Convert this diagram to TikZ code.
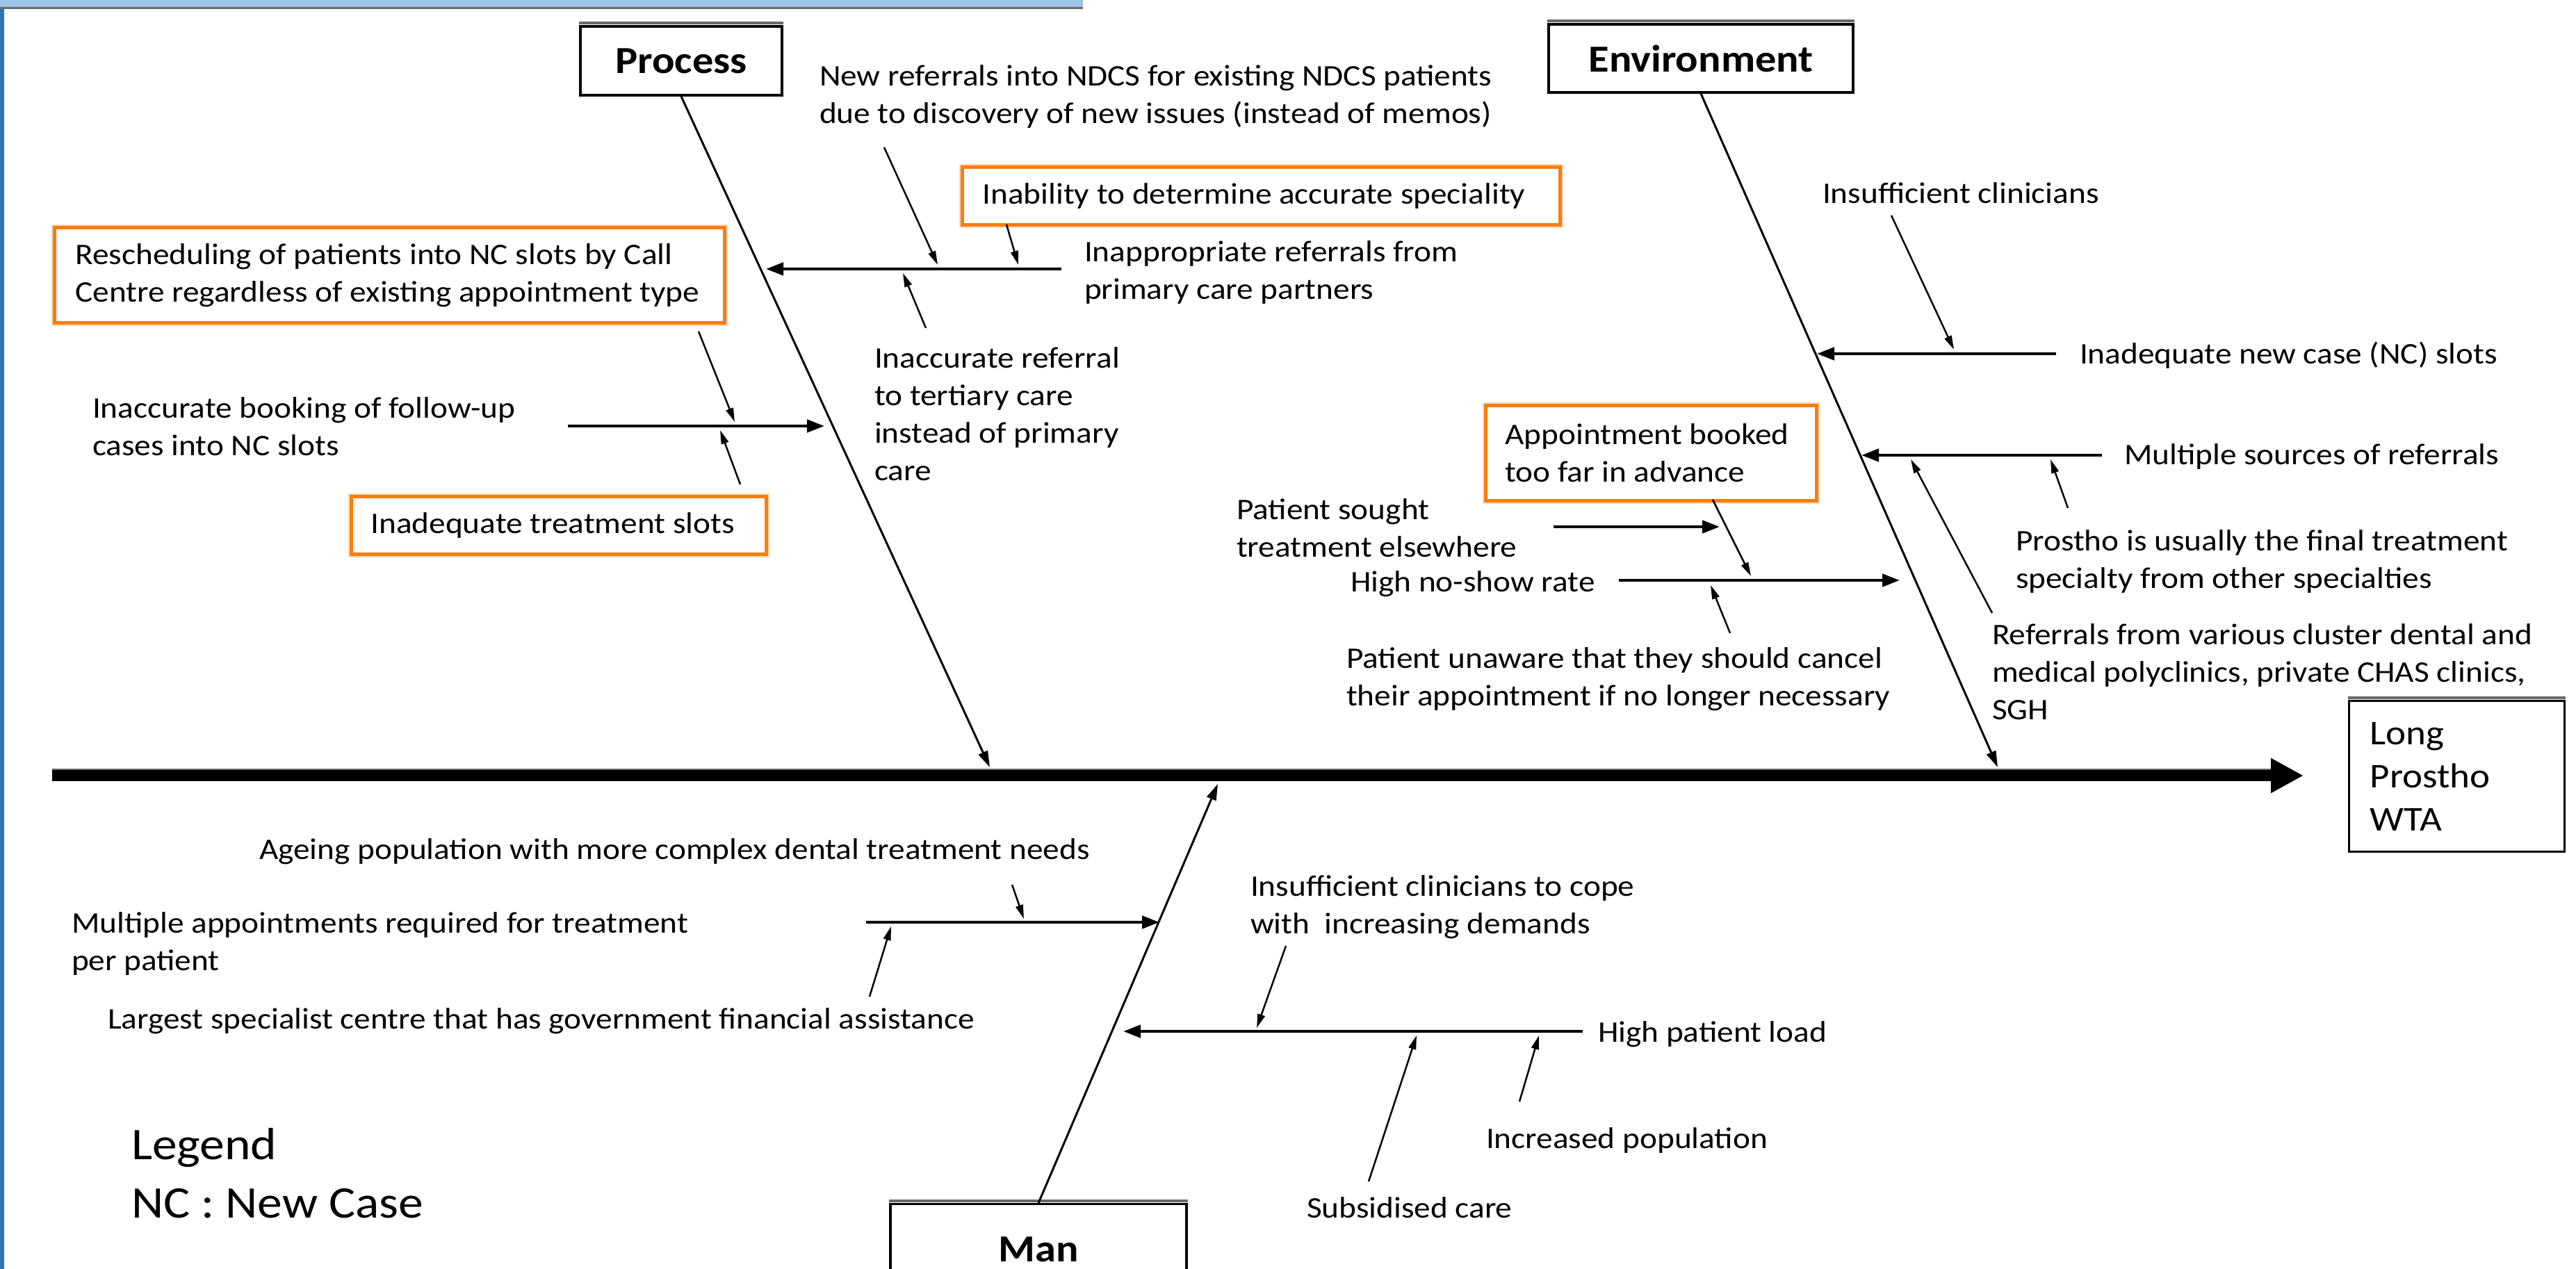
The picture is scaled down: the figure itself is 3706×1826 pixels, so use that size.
\documentclass[tikz,border=0pt]{standalone}
\usepackage{fontspec}
\setmainfont{Carlito}[FakeStretch=1.1]
\usetikzlibrary{arrows.meta}
\definecolor{boxorange}{RGB}{250,125,15}
\definecolor{barblue}{RGB}{157,195,230}
\definecolor{edgeblue}{RGB}{46,117,182}
\definecolor{bargray}{RGB}{105,105,105}
\newcommand\mytxtfont{\fontsize{12.9}{16.2}\selectfont}
\newcommand\natspace{\spaceskip=0pt\xspaceskip=0pt\relax}
\begin{document}
\begin{tikzpicture}[x=0.3pt,y=-0.3pt,
  txt/.style={inner sep=0pt, outer sep=0pt, anchor=west, align=left, font=\mytxtfont},
  obox/.style={draw=boxorange, line width=1.4pt, preaction={draw=boxorange!30, line width=2.6pt},
    fill=white, anchor=north west, align=left, inner ysep=0pt, font=\mytxtfont},
  kbox/.style={draw=black, line width=1pt, fill=white, align=center, inner sep=0pt},
  catlabel/.style={kbox, font=\bfseries\fontsize{16.5}{20}\selectfont},
  bone/.style={line width=0.9pt, -{Triangle[length=7pt,width=4.2pt]}},
  branch/.style={line width=1.4pt, -{Triangle[length=7.5pt,width=5.4pt]}},
  subarrow/.style={line width=0.75pt, -{Triangle[length=6pt,width=3.2pt]}},
  spine/.style={line width=4.6pt, -{Triangle[length=14.1pt,width=14.1pt]}},
  topedge/.style={bargray, line width=1.2pt},
]
\useasboundingbox (0,0) rectangle (3706,1826);
% window frame remnants
\fill[barblue] (0,0) rectangle (1558,10);
\fill[bargray] (0,10) rectangle (1558,12.5);
\fill[edgeblue] (0,12.5) rectangle (6,1826);

% category boxes
\node[catlabel, minimum width=87pt, minimum height=29.7pt] (process) at (980,87.5) {Process};
\node[catlabel, minimum width=131.4pt, minimum height=29.4pt] (env) at (2447,84) {Environment};
\node[catlabel, minimum width=127.8pt, minimum height=39pt, anchor=north] (man) at (1494,1731) {Man};

% effect
\node[kbox, align=left, anchor=north west, text width=75pt, inner xsep=9pt, minimum height=65.1pt,
  font=\fontsize{15}{18.6}\selectfont] (effect) at (3378,1007) {Long\\Prostho\\WTA};

% gray top edges of the black boxes
\draw[topedge] ([yshift=1pt]process.north west) -- ([yshift=1pt]process.north east);
\draw[topedge] ([yshift=1pt]env.north west) -- ([yshift=1pt]env.north east);
\draw[topedge] ([yshift=1pt]man.north west) -- ([yshift=1pt]man.north east);
\draw[topedge] ([yshift=1pt]effect.north west) -- ([yshift=1pt]effect.north east);

% spine
\coordinate (spinestart) at (75,1116);
\draw[bargray, line width=0.9pt] (75,1107.5) -- (3267,1107.5);
\draw[spine] (spinestart) -- ([xshift=-19.2pt]effect.west |- spinestart);

% bones
\coordinate (ptip) at (1424,1104);
\coordinate (etip) at (2874,1104);
\coordinate (mtip) at (1752,1128);
\draw[bone] (process.south) -- (ptip);
\draw[bone] (env.south) -- (etip);
\draw[bone] (man.north) -- (mtip);

% texts - Process
\node[txt] (newref) at (1179,139) {New referrals into NDCS for existing NDCS patients\\due to discovery of new issues (instead of memos)};
\node[obox, text width=240.6pt, inner xsep=8.7pt, minimum height=24.9pt] (inab) at (1382,238) {\natspace\mbox{Inability to determine accurate speciality}};
\node[txt] (inappr) at (1560,392) {Inappropriate referrals from\\primary care partners};
\node[obox, text width=271.2pt, inner xsep=9pt, minimum height=41.1pt] (resched) at (76,325) {\natspace\mbox{Rescheduling of patients into NC slots by Call}\\\mbox{Centre regardless of existing appointment type}};
\node[txt] (inaccbook) at (133,614) {Inaccurate booking of follow-up\\cases into NC slots};
\node[obox, text width=162.3pt, inner xsep=8.4pt, minimum height=24.9pt] (inadtreat) at (503,712) {\natspace\mbox{Inadequate treatment slots}};
\node[txt] (inaccref) at (1258,596) {Inaccurate referral\\to tertiary care\\instead of primary\\care};

% texts - Environment
\node[txt] (insuffclin) at (2622,278) {Insufficient clinicians};
\node[txt] (inadnc) at (2992,511) {Inadequate new case (NC) slots};
\node[obox, text width=126pt, inner xsep=8.4pt, minimum height=41.1pt] (appt) at (2135,581) {\natspace\mbox{Appointment booked}\\\mbox{too far in advance}};
\node[txt] (multisrc) at (3056,657) {Multiple sources of referrals};
\node[txt] (sought) at (1779,760) {Patient sought\\treatment elsewhere};
\node[txt] (noshow) at (1943,840) {High no-show rate};
\node[txt] (prosusual) at (2900,808) {Prostho is usually the final treatment\\specialty from other specialties};
\node[txt] (referrals) at (2866,967) {Referrals from various cluster dental and\\medical polyclinics, private CHAS clinics,\\SGH};
\node[txt] (unaware) at (1937,977) {Patient unaware that they should cancel\\their appointment if no longer necessary};

% texts - Man
\node[txt] (ageing) at (373,1225) {Ageing population with more complex dental treatment needs};
\node[txt] (multiappt) at (103,1358) {Multiple appointments required for treatment\\per patient};
\node[txt] (largest) at (155,1469) {Largest specialist centre that has government financial assistance};
\node[txt] (insuffcope) at (1799,1305) {Insufficient clinicians to cope\\with\ \ increasing demands};
\node[txt] (highload) at (2299,1488) {High patient load};
\node[txt] (incpop) at (2138,1641) {Increased population};
\node[txt] (subsid) at (1880,1738) {Subsidised care};

% legend
\node[txt, font=\fontsize{19.5}{25}\selectfont] (legend) at (189,1688) {Legend\\NC : New Case};

% ---- branches and sub-arrows ----
% B1 inappropriate referrals
\coordinate (b1s) at (1527,387); \coordinate (b1e) at (1102,387);
\draw[branch] (b1s) -- (b1e);
\coordinate (s1as) at (1272,212); \coordinate (s1ae) at (1349,381);
\draw[subarrow] (s1as) -- (s1ae);
\coordinate (s1bs) at (1448,323); \coordinate (s1be) at (1465,381);
\draw[subarrow] (s1bs) -- (s1be);
\coordinate (s1cs) at (1332,472); \coordinate (s1ce) at (1299,393);
\draw[subarrow] (s1cs) -- (s1ce);

% B2 inaccurate booking
\coordinate (b2s) at (817,613); \coordinate (b2e) at (1186,613);
\draw[branch] (b2s) -- (b2e);
\coordinate (s2as) at (1005,477); \coordinate (s2ae) at (1057,607);
\draw[subarrow] (s2as) -- (s2ae);
\coordinate (s2bs) at (1065,697); \coordinate (s2be) at (1036,619);
\draw[subarrow] (s2bs) -- (s2be);

% B3 inadequate NC slots
\coordinate (b3s) at (2958,509); \coordinate (b3e) at (2614,509);
\draw[branch] (b3s) -- (b3e);
\coordinate (s3as) at (2721,310); \coordinate (s3ae) at (2811,503);
\draw[subarrow] (s3as) -- (s3ae);

% B4 multiple sources
\coordinate (b4s) at (3024,655); \coordinate (b4e) at (2678,655);
\draw[branch] (b4s) -- (b4e);
\coordinate (s4as) at (2975,731); \coordinate (s4ae) at (2950,661);
\draw[subarrow] (s4as) -- (s4ae);
\coordinate (s4bs) at (2866,882); \coordinate (s4be) at (2749,661);
\draw[subarrow] (s4bs) -- (s4be);

% B5 high no-show
\coordinate (b5s) at (2329,835); \coordinate (b5e) at (2733,835);
\draw[branch] (b5s) -- (b5e);
\coordinate (s5as) at (2235,758); \coordinate (s5ae) at (2474,758);
\draw[branch] (s5as) -- (s5ae);
\coordinate (s5bs) at (2464,719); \coordinate (s5be) at (2519,829);
\draw[subarrow] (s5bs) -- (s5be);
\coordinate (s5cs) at (2489,911); \coordinate (s5ce) at (2461,842);
\draw[subarrow] (s5cs) -- (s5ce);

% B6 multiple appointments
\coordinate (b6s) at (1246,1327); \coordinate (b6e) at (1668,1327);
\draw[branch] (b6s) -- (b6e);
\coordinate (s6as) at (1456,1273); \coordinate (s6ae) at (1473,1322);
\draw[subarrow] (s6as) -- (s6ae);
\coordinate (s6bs) at (1251,1434); \coordinate (s6be) at (1282,1333);
\draw[subarrow] (s6bs) -- (s6be);

% B7 high patient load
\coordinate (b7s) at (2277,1484); \coordinate (b7e) at (1616,1484);
\draw[branch] (b7s) -- (b7e);
\coordinate (s7as) at (1850,1361); \coordinate (s7ae) at (1808,1479);
\draw[subarrow] (s7as) -- (s7ae);
\coordinate (s7bs) at (1969,1700); \coordinate (s7be) at (2038,1490);
\draw[subarrow] (s7bs) -- (s7be);
\coordinate (s7cs) at (2186,1585); \coordinate (s7ce) at (2214,1490);
\draw[subarrow] (s7cs) -- (s7ce);
\end{tikzpicture}
\end{document}
